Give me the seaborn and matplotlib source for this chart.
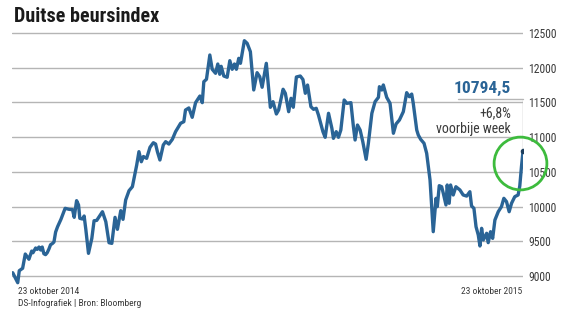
import matplotlib
matplotlib.use("Agg")
import matplotlib.pyplot as plt
from matplotlib import font_manager
from matplotlib.transforms import ScaledTranslation
import seaborn as sns
import pandas as pd

# ---- data (days since 23 Oct 2014, DAX close) ----
days = [0.0, 3.6, 4.7, 7.1, 9.0, 11.6, 13.6, 14.5, 16.4, 17.6, 18.8, 20.0, 21.1, 22.3, 23.5,
        24.7, 25.9, 27.1, 28.3, 29.5, 30.7, 32.1, 34.5, 37.5, 40.4, 42.8, 44.0, 45.7, 47.1,
        48.0, 49.9, 51.1, 52.3, 54.2, 56.6, 58.2, 60.1, 64.2, 66.6, 68.9, 70.9, 73.2, 74.9,
        77.3, 78.9, 80.8, 83.2, 85.6, 88.7, 90.3, 92.0, 93.5, 95.8, 98.2, 100.6, 102.2,
        103.5, 105.3, 107.7, 109.4, 111.7, 114.2, 116.5, 120.1, 122.4, 123.6, 126.0, 128.4,
        130.8, 133.9, 135.6, 136.7, 138.6, 141.0, 142.7, 145.1, 146.7, 148.1, 149.1, 151.0,
        153.4, 155.3, 157.0, 158.6, 160.0, 161.7, 162.9, 165.7, 167.7, 170.0, 172.4, 174.8,
        176.7, 178.4, 181.4, 184.3, 186.2, 188.6, 190.2, 193.4, 195.0, 197.4, 199.1, 200.7,
        202.9, 205.7, 207.6, 209.3, 210.9, 213.3, 215.2, 217.1, 218.7, 221.9, 223.5, 225.9,
        228.3, 229.4, 231.4, 233.0, 234.7, 237.1, 239.0, 241.9, 243.7, 244.9, 246.6, 248.5,
        250.4, 252.8, 254.4, 256.9, 259.2, 261.6, 262.3, 264.0, 265.1, 267.5, 269.9, 272.3,
        274.2, 276.6, 279.4, 281.8, 283.7, 285.4, 286.5, 289.0, 290.1, 291.8, 294.2, 296.1,
        298.5, 300.8, 302.8, 303.7, 305.1, 306.8, 308.0, 309.9, 310.8, 312.2, 313.2, 315.1,
        317.0, 319.9, 322.2, 324.7, 327.0, 328.2, 329.9, 331.4, 333.0, 334.2, 335.4, 336.6,
        339.0, 340.1, 341.8, 343.3, 344.9, 347.3, 349.6, 351.3, 353.2, 355.1, 356.8, 359.1,
        361.5, 362.7, 363.9, 365.0]
values = [9046, 8902, 9075, 9110, 9315, 9240, 9358, 9334, 9402, 9383, 9416, 9373, 9416, 9320, 9306,
          9335, 9387, 9450, 9465, 9488, 9632, 9709, 9815, 9974, 9959, 9955, 9844, 10084, 10022,
          9830, 9820, 9863, 9671, 9325, 9541, 9795, 9800, 9925, 9781, 9478, 9469, 9844, 9671,
          9940, 9815, 10094, 10228, 10285, 10598, 10790, 10645, 10720, 10694, 10853, 10919, 10900,
          10790, 10670, 10886, 10934, 10900, 10968, 11078, 11199, 11222, 11390, 11420, 11285,
          11496, 11592, 11496, 11798, 11833, 12183, 11977, 11919, 12053, 11905, 12020, 11880,
          11862, 12101, 11977, 12053, 11977, 12135, 12063, 12389, 12351, 12231, 11679, 11928,
          11870, 11718, 12063, 11429, 11510, 11333, 11390, 11689, 11631, 11366, 11559, 11430,
          11866, 11880, 11830, 11631, 11750, 11438, 11400, 11415, 11318, 11078, 10997, 11343,
          11126, 10982, 11078, 10997, 11102, 11534, 11486, 11496, 11150, 10958, 11174, 11102,
          10934, 10680, 10911, 11343, 11510, 11573, 11726, 11678, 11751, 11573, 11487, 11055,
          11189, 11246, 11366, 11640, 11582, 11620, 11487, 11102, 11030, 10968, 10911, 10766,
          10382, 9637, 10118, 9998, 10300, 10285, 10190, 10022, 10310, 10046, 10310, 10166,
          10285, 10238, 10166, 10150, 10213, 10007, 9974, 9709, 9590, 9431, 9686, 9518,
          9614, 9479, 9637, 9541, 9805, 9925, 9998, 10118, 10070, 9925, 10046, 10141,
          10166, 10296, 10573, 10794.5]
yticks = [9000, 9500, 10000, 10500, 11000, 11500, 12000, 12500]
title = "Duitse beursindex"
start_label = "23 oktober 2014"
end_label = "23 oktober 2015"
source = "DS-Infografiek | Bron: Bloomberg"
last_label = "10794,5"
change_label = "+6,8%"
change_sub = "voorbije week"

# ---- fonts ----
names = {f.name for f in font_manager.fontManager.ttflist}
narrow = None
for cand in ["Liberation Sans Narrow", "Roboto Condensed", "Open Sans Condensed", "DejaVu Sans"]:
    if cand in names:
        narrow = cand
        break

sns.set_theme(style="white")
plt.rcParams["font.family"] = [narrow, "DejaVu Sans"]

df = pd.DataFrame({"day": days, "value": values})

W, H = 568, 322
fig = plt.figure(figsize=(W / 100, H / 100), dpi=100)
fig.patch.set_facecolor("white")
ax = fig.add_axes([12 / W, 1 - 290 / H, (523 - 12) / W, (290 - 30) / H])

blue = "#2a6496"
grid_c = "#b5b5b5"
text_c = "#3a3a3a"

for yv in yticks:
    ax.axhline(yv, color=grid_c, lw=1.0, zorder=1)

sns.lineplot(data=df, x="day", y="value", ax=ax, color=blue, lw=2.4, zorder=3,
             solid_joinstyle="round", solid_capstyle="round")

ax.set_xlim(days[0] - 0.5, days[-1])
ax.set_ylim(8797, 12543)
for s in ax.spines.values():
    s.set_visible(False)
ax.set_xticks([])
ax.set_yticks(yticks)
ax.yaxis.tick_right()
ax.tick_params(axis="y", length=0, pad=4, labelsize=8.4, labelcolor=text_c)
ax.set_yticklabels([str(v) for v in yticks])
ax.set_xlabel("")
ax.set_ylabel("")
ax.patch.set_alpha(0)

# end marker and circle
ax.plot([days[-1]], [values[-1]], marker="o", ms=3, color="#1d3f5e", zorder=4)
off = ScaledTranslation(-3 / 100, -12 / 100, fig.dpi_scale_trans)
ax.plot([days[-1]], [values[-1]], marker="o", ms=38, mfc="none", mec="#3dbb3d", mew=2.0,
        transform=ax.transData + off, zorder=5, clip_on=False)

# annotation bracket
fig.add_artist(plt.Line2D([458 / W, 523 / W], [1 - 99 / H, 1 - 99 / H], color=grid_c, lw=1.0))
ax.plot([days[-1], days[-1]], [values[-1], 11530], color=grid_c, lw=1.0, zorder=2)

fig.text(511 / W, 1 - 88 / H, last_label, ha="right", va="center", fontsize=12.5,
         fontweight="bold", color=blue)
fig.text(511 / W, 1 - 113 / H, change_label, ha="right", va="center", fontsize=10, color=text_c)
fig.text(511 / W, 1 - 129 / H, change_sub, ha="right", va="center", fontsize=10, color=text_c)

fig.text(14 / W, 1 - 16 / H, title, ha="left", va="center", fontsize=14.5, fontweight="bold",
         color="#1a1a1a")
fig.text(18 / W, 1 - 291 / H, start_label, ha="left", va="center", fontsize=6.8, color=text_c)
fig.text(18 / W, 1 - 303 / H, source, ha="left", va="center", fontsize=6.8, color=text_c)
fig.text(522 / W, 1 - 291 / H, end_label, ha="right", va="center", fontsize=6.8, color=text_c)

fig.savefig("out.png", dpi=100, facecolor="white")
